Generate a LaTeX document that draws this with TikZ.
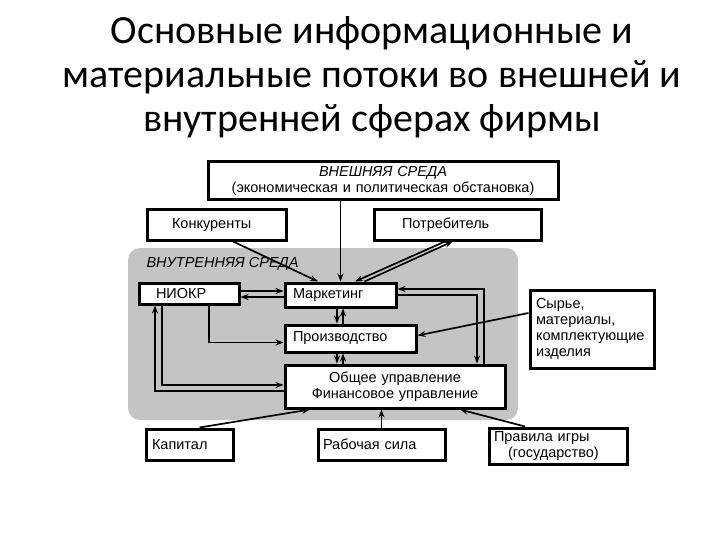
\documentclass[tikz,border=0pt]{standalone}
\usepackage{fontspec}
\setmainfont{Liberation Sans}
\newfontfamily\titlefont{Carlito}
\usetikzlibrary{arrows.meta}
\definecolor{innergray}{RGB}{196,196,196}
\begin{document}
\begin{tikzpicture}[x=1pt,y=-1pt,
  box/.style={draw, line width=3pt, fill=white, inner ysep=0pt, font=\fontsize{14.5}{16}\selectfont, align=left},
  conn/.style={line width=1.7pt, -{Stealth[length=8pt,width=6pt]}}]
\useasboundingbox (0,0) rectangle (720,540);
\node[font=\titlefont\fontsize{40}{44}\selectfont, align=center] (title) at (372,77) {Основные информационные и\\материальные потоки во внешней и\\внутренней сферах фирмы};
\fill[innergray, rounded corners=12pt] (128,248) rectangle (518,420);
\node[font=\itshape\fontsize{14.5}{16}\selectfont, anchor=west] (inner) at (143,264) {ВНУТРЕННЯЯ СРЕДА};
\node[box, align=center, text width=340pt, minimum height=38pt, inner xsep=5pt] (ext) at (383,181) {{\itshape ВНЕШНЯЯ СРЕДА}\\(экономическая и политическая обстановка)};
\node[box, text width=89pt, minimum height=30pt, inner xsep=25pt] (konk) at (216.5,225) {Конкуренты};
\node[box, text width=111pt, minimum height=30pt, inner xsep=28pt] (potr) at (457.5,225) {Потребитель};
\node[box, text width=66pt, minimum height=21pt, inner xsep=17pt] (niokr) at (189,293.5) {НИОКР};
\node[box, text width=95pt, minimum height=24pt, inner xsep=8pt] (mark) at (340.5,295) {Маркетинг};
\node[box, text width=115pt, minimum height=27pt, inner xsep=8pt] (proizv) at (350.5,338.5) {Производство};
\node[box, align=center, text width=210pt, minimum height=43pt, inner xsep=5pt] (obsh) at (395,386.5) {Общее управление\\Финансовое управление};
\node[box, text width=112pt, minimum height=78pt, inner xsep=6pt] (syr) at (592,329) {Сырье,\\материалы,\\комплектующие\\изделия};
\node[box, text width=75pt, minimum height=31pt, inner xsep=6pt] (kap) at (189.5,444.5) {Капитал};
\node[box, text width=117pt, minimum height=31pt, inner xsep=5pt] (rab) at (381.5,444.5) {Рабочая сила};
\node[box, text width=128pt, minimum height=36pt, inner xsep=5pt] (prav) at (558,446) {Правила игры\\\hspace*{14pt}(государство)};
% connectors
\draw[conn] (ext.south -| mark.north) -- (mark.north);
\draw[conn] ([xshift=16.5pt]konk.south) -- ([xshift=-22.5pt]mark.north);
\draw[conn] ([xshift=-12.5pt]potr.south) -- ([xshift=14.5pt]mark.north);
\draw[conn] ([xshift=24pt]mark.north) -- ([xshift=-5pt]potr.south);
\draw[conn] (niokr.east |- 0,291) -- (mark.west |- 0,291);
\draw[conn] (mark.west |- 0,297) -- (niokr.east |- 0,297);
\draw[conn] (niokr.south -| 209,0) |- ([yshift=-4pt]proizv.west);
\draw[conn] (mark.south -| 337,0) -- (proizv.north -| 337,0);
\draw[conn] (proizv.north -| 343,0) -- (mark.south -| 343,0);
\draw[conn] (proizv.south -| 337,0) -- (obsh.north -| 337,0);
\draw[conn] (obsh.north -| 343,0) -- (proizv.south -| 343,0);
\draw[conn] (mark.east |- 0,295) -| (obsh.north -| 477,0);
\draw[conn] (obsh.north -| 484,0) |- (mark.east |- 0,289);
\draw[conn] (obsh.west |- 0,391) -| (niokr.south -| 155,0);
\draw[conn] (niokr.south -| 162,0) |- (obsh.west |- 0,385);
\draw[conn] (syr.west |- 0,313) -- ([yshift=3pt]proizv.east);
\draw[conn] ([xshift=10pt]kap.north) -- ([xshift=-85pt]obsh.south);
\draw[conn] (rab.north) -- (obsh.south -| rab.north);
\draw[conn] ([xshift=-33pt]prav.north) -- ([xshift=65pt]obsh.south);
\end{tikzpicture}
\end{document}
